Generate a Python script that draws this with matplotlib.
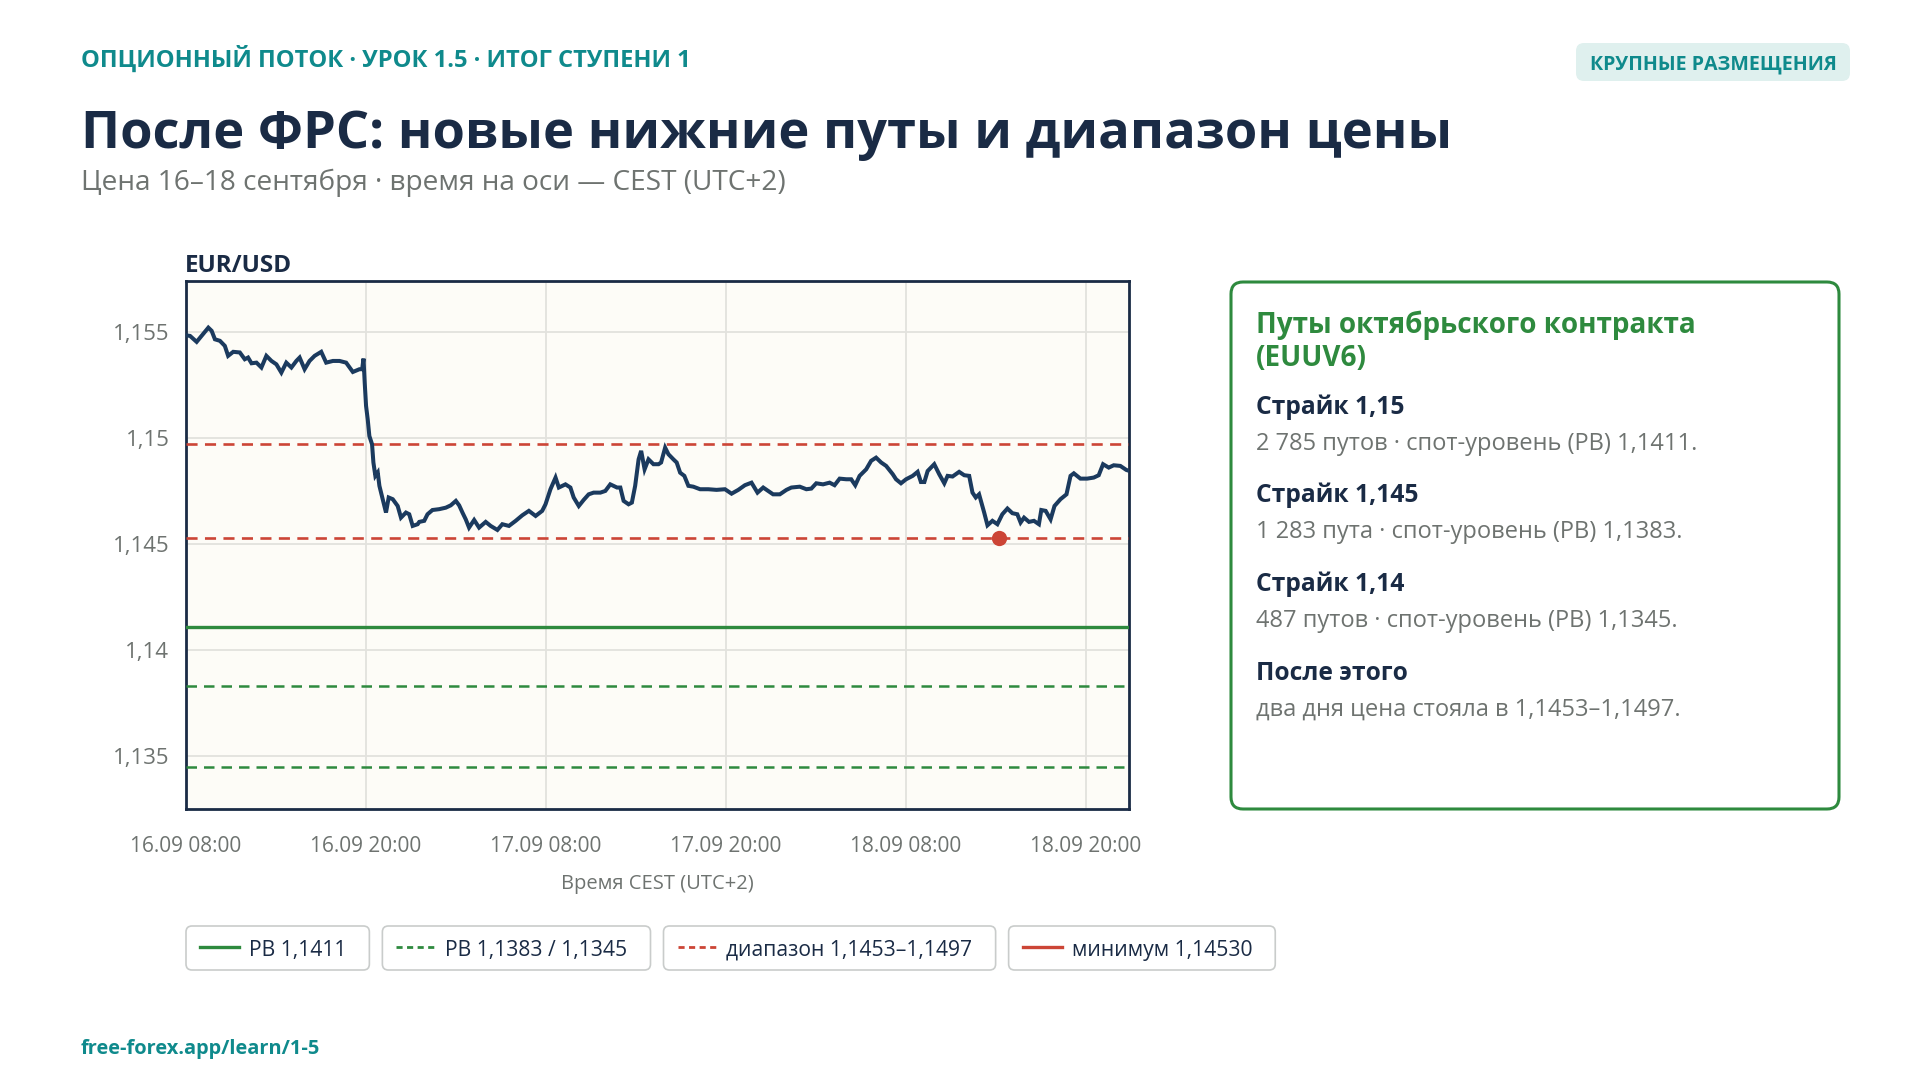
import matplotlib
matplotlib.use('Agg')
import matplotlib.pyplot as plt
from matplotlib.patches import FancyBboxPatch
from matplotlib.lines import Line2D
from matplotlib.ticker import FuncFormatter, FixedLocator

plt.rcParams['font.family'] = ['Open Sans', 'DejaVu Sans']

# ---------------- data ----------------
# hours since 16.09 08:00 CEST
hours = [
    0.00, 0.27, 0.71, 1.04, 1.49, 1.71, 1.93, 2.26, 2.59, 2.81, 3.15, 3.59, 3.92, 4.14, 4.37,
    4.70, 5.03, 5.36, 5.70, 6.03, 6.36, 6.69, 7.03, 7.36, 7.58, 7.91, 8.24, 8.58, 9.02, 9.35,
    9.80, 10.24, 10.68, 11.13, 11.57, 11.75, 11.84, 11.92, 12.01, 12.12, 12.23, 12.41, 12.50,
    12.63, 12.79, 12.90, 13.12, 13.34, 13.52, 13.79, 14.12, 14.34, 14.67, 14.89, 15.12, 15.45,
    15.56, 15.89, 16.11, 16.44, 16.89, 17.33, 17.66, 18.00, 18.22, 18.44, 18.66, 18.88, 19.22,
    19.55, 19.99, 20.32, 20.77, 21.10, 21.54, 21.99, 22.43, 22.87, 23.32, 23.76, 23.98, 24.31,
    24.65, 24.87, 25.31, 25.64, 25.86, 26.20, 26.53, 26.86, 27.19, 27.64, 27.97, 28.30, 28.75,
    28.97, 29.19, 29.52, 29.74, 29.96, 30.19, 30.36, 30.59, 30.85, 31.18, 31.52,
    31.69, 31.96, 32.18, 32.51, 32.73, 32.96, 33.24, 33.51, 33.84, 34.29, 34.84, 35.39, 35.95,
    36.39, 36.84, 37.28, 37.72, 38.12, 38.50, 38.83, 39.16, 39.61, 40.05, 40.38, 40.94, 41.38,
    41.71, 42.04, 42.49, 42.93, 43.26, 43.60, 44.04, 44.37, 44.64, 44.93, 45.37, 45.70, 46.03,
    46.37, 46.70, 47.14, 47.36, 47.69, 48.03, 48.47, 48.80, 49.02, 49.25, 49.47, 49.91, 50.24,
    50.58, 50.80, 51.13, 51.57, 51.91, 52.24, 52.46, 52.68, 52.90, 53.24, 53.46, 53.79, 54.12,
    54.45, 54.79, 55.12, 55.45, 55.67, 55.90, 56.23, 56.56, 56.89, 57.05, 57.34, 57.67, 57.93,
    58.33, 58.73, 59.00, 59.22, 59.66, 60.11, 60.55, 60.88, 61.17, 61.55, 61.88, 62.32, 62.72,
    62.90,
]
price = [
    1.15484, 1.15481, 1.15453, 1.15481, 1.15520, 1.15505, 1.15465, 1.15458, 1.15434, 1.15387,
    1.15406, 1.15403, 1.15371, 1.15379, 1.15352, 1.15355, 1.15332, 1.15387, 1.15363, 1.15347,
    1.15308, 1.15355, 1.15332, 1.15363, 1.15379, 1.15324, 1.15363, 1.15387, 1.15406, 1.15355,
    1.15363, 1.15363, 1.15355, 1.15311, 1.15324, 1.15324, 1.15374, 1.15261, 1.15151, 1.15088,
    1.15009, 1.14970, 1.14884, 1.14821, 1.14837, 1.14774, 1.14711, 1.14648, 1.14719, 1.14711,
    1.14679, 1.14624, 1.14648, 1.14640, 1.14585, 1.14593,
    1.14604, 1.14609, 1.14640, 1.14660, 1.14664, 1.14671, 1.14682, 1.14703, 1.14682, 1.14648,
    1.14616, 1.14577, 1.14613, 1.14577, 1.14604, 1.14585, 1.14566, 1.14593, 1.14585, 1.14609,
    1.14635, 1.14656, 1.14632, 1.14656, 1.14687, 1.14758, 1.14813, 1.14766, 1.14781, 1.14766,
    1.14719, 1.14679, 1.14708, 1.14734, 1.14742, 1.14742, 1.14750, 1.14781, 1.14766, 1.14766,
    1.14703, 1.14687, 1.14695, 1.14774, 1.14899, 1.14939, 1.14852, 1.14899, 1.14876, 1.14876,
    1.14884, 1.14954, 1.14923, 1.14899, 1.14884, 1.14836, 1.14821, 1.14774, 1.14770, 1.14758,
    1.14758, 1.14755, 1.14758, 1.14737, 1.14755, 1.14777, 1.14789, 1.14742, 1.14766, 1.14750,
    1.14734, 1.14734, 1.14755, 1.14766, 1.14770, 1.14758, 1.14761, 1.14786, 1.14781, 1.14789,
    1.14777, 1.14808, 1.14805, 1.14805, 1.14777, 1.14821, 1.14852, 1.14892, 1.14907, 1.14884,
    1.14868, 1.14829, 1.14805, 1.14786, 1.14805, 1.14821, 1.14840, 1.14792, 1.14792, 1.14844,
    1.14876, 1.14829, 1.14786, 1.14821, 1.14818, 1.14840, 1.14824, 1.14821, 1.14742, 1.14719,
    1.14734, 1.14648, 1.14588, 1.14609, 1.14593, 1.14640, 1.14667, 1.14645, 1.14640, 1.14601,
    1.14624, 1.14604, 1.14609, 1.14593, 1.14660, 1.14656, 1.14616, 1.14679, 1.14711, 1.14734,
    1.14821, 1.14833, 1.14808, 1.14808, 1.14813, 1.14824, 1.14876, 1.14860, 1.14871, 1.14868,
    1.14849, 1.14845,
]

x_tick_hours = [0, 12, 24, 36, 48, 60]
x_tick_labels = ['16.09 08:00', '16.09 20:00', '17.09 08:00', '17.09 20:00',
                 '18.09 08:00', '18.09 20:00']
y_ticks = [1.135, 1.14, 1.145, 1.15, 1.155]
x_range = (0.0, 62.9)
y_range = (1.1325, 1.1574)

pb_main = 1.1411
pb_other = [1.1383, 1.1345]
range_levels = [1.1453, 1.1497]
min_hour = 54.25
min_price = 1.14530

legend_labels = ['РВ 1,1411', 'РВ 1,1383 / 1,1345', 'диапазон 1,1453–1,1497', 'минимум 1,14530']

panel_title = 'Путы октябрьского контракта\n(EUUV6)'
panel_heads = ['Страйк 1,15', 'Страйк 1,145', 'Страйк 1,14', 'После этого']
panel_bodies = ['2 785 путов · спот-уровень (РВ) 1,1411.',
                '1 283 пута · спот-уровень (РВ) 1,1383.',
                '487 путов · спот-уровень (РВ) 1,1345.',
                'два дня цена стояла в 1,1453–1,1497.']

# ---------------- styles ----------------
NAVY = '#1a2b45'
LINE = '#1b3a5e'
TEAL = '#0f8a8c'
GREEN = '#2e8a3e'
RED = '#cc4536'
GRAY = '#6e7370'
GRID = '#e2e2dd'

W, H = 1920, 1080
fig = plt.figure(figsize=(19.2, 10.8), dpi=100, facecolor='white')


def fx(px):
    return px / W


def fy(py):
    return 1 - py / H


# header
fig.text(fx(81), fy(67), 'ОПЦИОННЫЙ ПОТОК · УРОК 1.5 · ИТОГ СТУПЕНИ 1', color=TEAL,
         fontsize=17.1, fontweight='bold', va='baseline', ha='left')
fig.text(fx(81), fy(148), 'После ФРС: новые нижние путы и диапазон цены', color=NAVY,
         fontsize=37.7, fontweight='bold', va='baseline', ha='left')
fig.text(fx(81), fy(190), 'Цена 16–18 сентября · время на оси — CEST (UTC+2)', color=GRAY,
         fontsize=20.2, va='baseline', ha='left')

# badge
bx0, bx1, by0, by1 = 1576, 1850, 43, 81
fig.patches.append(FancyBboxPatch((fx(bx0), fy(by1)), fx(bx1 - bx0), (by1 - by0) / H,
                                  boxstyle='round,pad=0,rounding_size=%f' % (8 / W),
                                  mutation_aspect=W / H, transform=fig.transFigure,
                                  facecolor='#dff0ee', edgecolor='none'))
fig.text(fx((bx0 + bx1) / 2), fy(69), 'КРУПНЫЕ РАЗМЕЩЕНИЯ', color=TEAL,
         fontsize=14.1, fontweight='bold', ha='center', va='baseline')

# ---------------- chart ----------------
ax_l, ax_r, ax_t, ax_b = 186, 1129, 281, 809
ax = fig.add_axes([fx(ax_l), fy(ax_b), fx(ax_r - ax_l), (ax_b - ax_t) / H])
ax.set_facecolor('#fdfcf7')

for v in range_levels:
    ax.axhline(v, color=RED, lw=1.9, dashes=(4.2, 2.8), zorder=3)
ax.axhline(pb_main, color=GREEN, lw=2.4, zorder=3)
for v in pb_other:
    ax.axhline(v, color=GREEN, lw=1.8, dashes=(4.2, 2.8), zorder=3)

ax.plot(hours, price, color=LINE, lw=2.9, zorder=4, solid_joinstyle='miter')
ax.plot([min_hour], [min_price], 'o', color=RED, ms=11, zorder=5, mec='none')

ax.set_xlim(*x_range)
ax.set_ylim(*y_range)
ax.xaxis.set_major_locator(FixedLocator(x_tick_hours))
ax.set_xticklabels(x_tick_labels)
ax.yaxis.set_major_locator(FixedLocator(y_ticks))
ax.yaxis.set_major_formatter(FuncFormatter(lambda v, p: ('%.3f' % v).rstrip('0').replace('.', ',')))
ax.tick_params(axis='both', length=0, labelcolor=GRAY)
ax.tick_params(axis='x', pad=19.5, labelsize=15)
ax.tick_params(axis='y', pad=12, labelsize=16)
ax.grid(True, color=GRID, lw=1.3, zorder=0)
ax.set_axisbelow(True)
for s in ax.spines.values():
    s.set_color(NAVY)
    s.set_linewidth(2)

fig.text(fx(ax_l - 1), fy(272), 'EUR/USD', color=NAVY, fontsize=17.5, fontweight='bold',
         ha='left', va='baseline')
fig.text(fx((ax_l + ax_r) / 2), fy(884.5), 'Время CEST (UTC+2)', color=GRAY, fontsize=14.5,
         ha='center', va='center')

# ---------------- legend ----------------
renderer = fig.canvas.get_renderer()
leg_styles = [dict(color=GREEN, lw=2.4), dict(color=GREEN, lw=2.0, dashes=(2.2, 1.6)),
              dict(color=RED, lw=2.0, dashes=(2.2, 1.6)), dict(color=RED, lw=2.4)]
lx = 186
ly0, ly1 = 926, 970
for lab, st in zip(legend_labels, leg_styles):
    t = fig.text(fx(lx + 63), fy(956), lab, color=NAVY, fontsize=15.2, ha='left', va='baseline')
    tw = t.get_window_extent(renderer).width
    bw = 63 + tw + 23
    fig.patches.append(FancyBboxPatch((fx(lx), fy(ly1)), fx(bw), (ly1 - ly0) / H,
                                      boxstyle='round,pad=0,rounding_size=%f' % (6 / W),
                                      mutation_aspect=W / H, transform=fig.transFigure,
                                      facecolor='white', edgecolor='#c9cccb', lw=1.2))
    fig.lines.append(Line2D([fx(lx + 14), fx(lx + 53)], [fy(947), fy(947)],
                            transform=fig.transFigure, **st))
    lx += bw + 13

# ---------------- right panel ----------------
px0, px1, py0, py1 = 1231, 1839, 282, 809
fig.patches.append(FancyBboxPatch((fx(px0), fy(py1)), fx(px1 - px0), (py1 - py0) / H,
                                  boxstyle='round,pad=0,rounding_size=%f' % (12 / W),
                                  mutation_aspect=W / H, transform=fig.transFigure,
                                  facecolor='white', edgecolor=GREEN, lw=2.2))
tx = 1256
t1, t2 = panel_title.split('\n')
fig.text(fx(tx), fy(333), t1, color=GREEN, fontsize=20.1, fontweight='bold', va='baseline')
fig.text(fx(tx), fy(366), t2, color=GREEN, fontsize=20.1, fontweight='bold', va='baseline')
head_y = [414, 502, 591, 680]
for hy, hd, bd in zip(head_y, panel_heads, panel_bodies):
    fig.text(fx(tx), fy(hy), hd, color=NAVY, fontsize=17.7, fontweight='bold', va='baseline')
    fig.text(fx(tx), fy(hy + 36), bd, color=GRAY, fontsize=17, va='baseline')

# footer
fig.text(fx(81), fy(1054), 'free-forex.app/learn/1-5', color=TEAL, fontsize=14.4,
         fontweight='bold', va='baseline')

fig.savefig('out.png', dpi=100, facecolor='white')
